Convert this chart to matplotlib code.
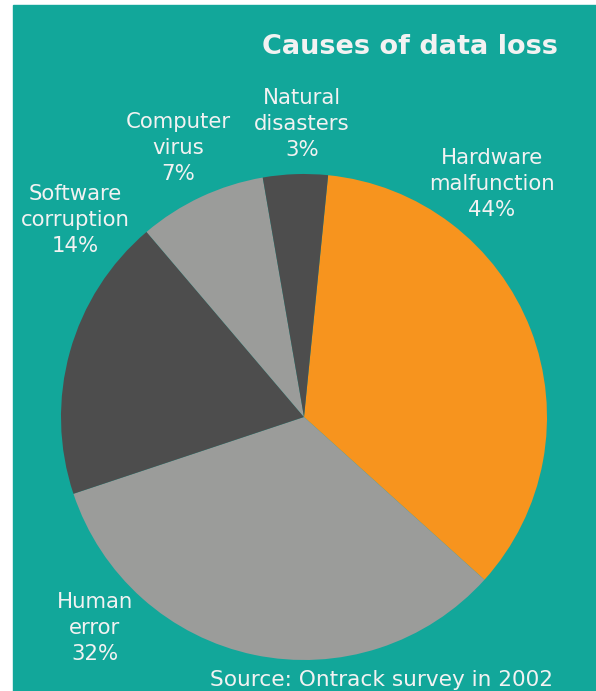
import matplotlib
matplotlib.use("Agg")
import matplotlib.pyplot as plt
from matplotlib.patches import Rectangle

# Categories and values
causes = ['Hardware\nmalfunction', 'Human\nerror', 'Software\ncorruption', 'Computer\nvirus', 'Natural\ndisasters']
percent_labels = [44, 32, 14, 7, 3]
# slice sizes as drawn in the original picture
wedge_sizes = [35.1, 33.2, 18.9, 8.5, 4.3]
colors = ['#F7941E', '#9B9C9A', '#4D4D4D', '#9B9C9A', '#4D4D4D']

title = 'Causes of data loss'
source = 'Source: Ontrack survey in 2002'

W, H = 596, 691
teal = '#12A79A'
txt = '#F2F2F2'

fig = plt.figure(figsize=(W / 100, H / 100), dpi=100)
ax = fig.add_axes([0, 0, 1, 1])

# teal panel
ax.add_patch(Rectangle((13, 0), W - 13, H - 5, color=teal, zorder=0))

ax.pie(wedge_sizes, colors=colors, startangle=84.3, counterclock=False,
       center=(304, H - 417), radius=243, frame=True,
       wedgeprops=dict(linewidth=0))
ax.set_xlim(0, W)
ax.set_ylim(0, H)
ax.axis('off')

# label positions (pixels from top-left)
pos = [(492, 184), (95, 628), (75, 220), (178, 148), (302, 124)]
for name, p, (x, y) in zip(causes, percent_labels, pos):
    ax.text(x, H - y, f'{name}\n{p}%', ha='center', va='center', color=txt,
            fontsize=15.3, linespacing=1.38, family='DejaVu Sans')

ax.text(558, H - 47, title, ha='right', va='center', color=txt,
        fontsize=19.5, fontweight='bold', family='DejaVu Sans')
ax.text(210, H - 680, source, ha='left', va='center', color=txt,
        fontsize=15.6, family='DejaVu Sans')

fig.savefig('out.png', dpi=100, facecolor='white')
